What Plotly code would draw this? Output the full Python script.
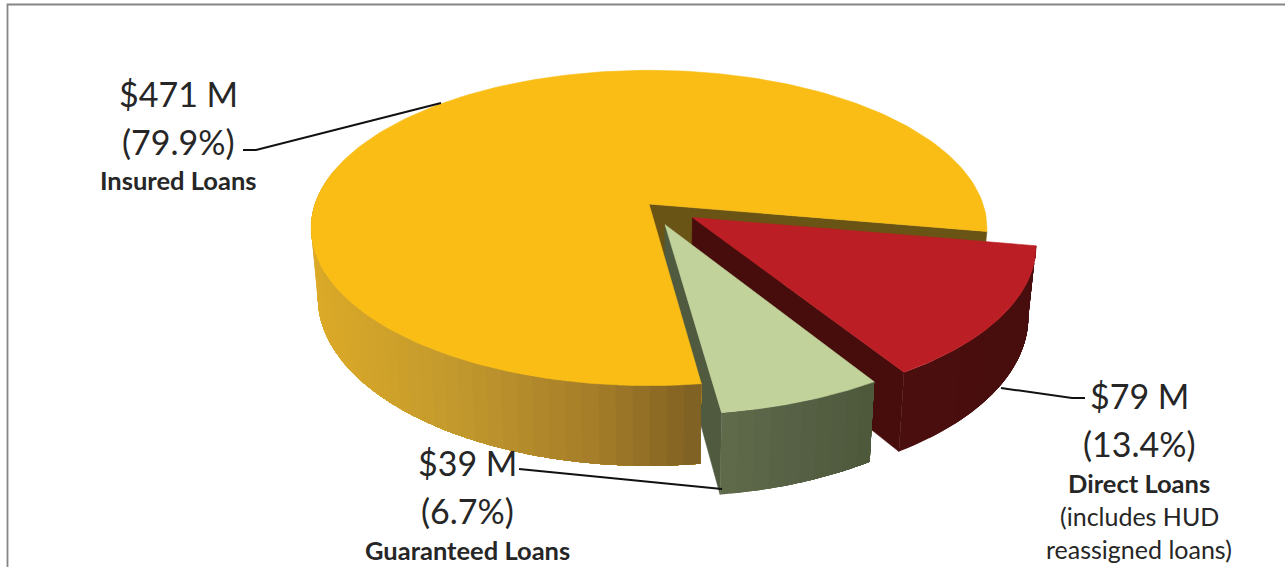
import numpy as np
import plotly.graph_objects as go

# ---- data ----
categories = ["Insured Loans", "Guaranteed Loans", "Direct Loans"]
amounts_musd = [471, 39, 79]
percents = [79.9, 6.7, 13.4]

# ---- drawing style / layout ----
CX, CY, A, B, K = 649.0, 204.0, 334.0, 154.0, 0.152   # perspective disc
DEPTH, SHRINK = 68.0, 0.98
START_DEG = -10.0
EXPLODE = {"Insured Loans": 0.0, "Guaranteed Loans": 0.14, "Direct Loans": 0.155}
TOP = {"Insured Loans": "#f9bd16", "Guaranteed Loans": "#c1d29a", "Direct Loans": "#bb1e24"}
WALL = {"Insured Loans": "#6a5415", "Guaranteed Loans": "#4f5a3f", "Direct Loans": "#470c0c"}
SIDE_STOPS = {
    "Insured Loans": ([315, 450, 600, 700], ["#dcaa28", "#c49a2e", "#a47c28", "#7e6024"]),
    "Guaranteed Loans": ([722, 800, 875], ["#616c4c", "#566145", "#4e593c"]),
    "Direct Loans": ([880, 1030], ["#4c0f0f", "#480d0d"]),
}
TEXT = "#262626"
FONT = "Lato"


def project(u, v, lower=False):
    u, v = np.asarray(u, float), np.asarray(v, float)
    w = 1 + K * v
    x = A * u / w
    y = -B * v / w
    if lower:
        return CX + SHRINK * x, CY + y + DEPTH / w
    return CX + x, CY + y


def hex_rgb(h):
    return np.array([int(h[i:i + 2], 16) for i in (1, 3, 5)], float)


def side_colour(name, x):
    xs, cols = SIDE_STOPS[name]
    rgb = np.array([hex_rgb(c) for c in cols])
    return "rgb(%d,%d,%d)" % tuple(np.interp(x, xs, rgb[:, i]) for i in range(3))


def poly(fig, xs, ys, colour, edge=True):
    fig.add_trace(go.Scatter(x=list(xs), y=list(ys), mode="lines" if edge else "none", fill="toself",
                             fillcolor=colour, line=dict(color=colour, width=0.6),
                             hoverinfo="skip", showlegend=False))


# slice geometry follows from the percentages
spans = {}
a0 = START_DEG
for name, p in zip(categories, percents):
    spans[name] = (a0, a0 + p * 3.6)
    a0 += p * 3.6


def offset(name):
    t1, t2 = spans[name]
    mid = np.radians((t1 + t2) / 2)
    d = EXPLODE[name]
    return d * np.cos(mid), d * np.sin(mid)


def top(fig, name):
    t1, t2 = spans[name]
    ox, oy = offset(name)
    t = np.radians(np.linspace(t1, t2, 200))
    u = np.r_[ox, ox + np.cos(t), ox]
    v = np.r_[oy, oy + np.sin(t), oy]
    x, y = project(u, v)
    poly(fig, x, y, TOP[name])


def wall(fig, name, angle):
    ox, oy = offset(name)
    t = np.radians(angle)
    u = np.array([ox, ox + np.cos(t)])
    v = np.array([oy, oy + np.sin(t)])
    x1, y1 = project(u, v)
    x2, y2 = project(u, v, lower=True)
    poly(fig, np.r_[x1, x2[::-1], x1[0]], np.r_[y1, y2[::-1], y1[0]], WALL[name])


def side(fig, name, t_from=None, strips=40):
    t1, t2 = spans[name]
    if t_from is not None:
        t1 = t_from
    ox, oy = offset(name)
    fine = 4
    t = np.radians(np.linspace(t1, t2, strips * fine + 1))
    u = ox + np.cos(t)
    v = oy + np.sin(t)
    x1, y1 = project(u, v)
    x2, y2 = project(u, v, lower=True)
    # each band runs to the far end and the next one paints over it, so no seams show
    for i in range(strips):
        a = i * fine
        xc = (x1[a] + x1[min(a + fine, len(x1) - 1)]) / 2
        poly(fig,
             np.r_[x1[a:], x2[a:][::-1], x1[a]],
             np.r_[y1[a:], y2[a:][::-1], y1[a]],
             side_colour(name, xc), edge=False)


fig = go.Figure()
INS, GUA, DIR = categories

# painter's order, back to front
wall(fig, INS, spans[INS][0])
wall(fig, DIR, spans[DIR][0])
side(fig, DIR, strips=8)
top(fig, DIR)
wall(fig, GUA, spans[GUA][0])
side(fig, INS, t_from=165, strips=45)
top(fig, INS)
side(fig, GUA, strips=10)
top(fig, GUA)

# leader lines and frame
leaders = [
    ([243, 256, 441], [150, 150, 103]),
    ([1001, 1072, 1085], [388, 398, 398]),
    ([519, 722], [469, 489]),
]
for lx, ly in leaders:
    fig.add_trace(go.Scatter(x=lx, y=ly, mode="lines", line=dict(color="#111111", width=2),
                             hoverinfo="skip", showlegend=False))
fig.add_trace(go.Scatter(x=[7.5, 7.5, 1285], y=[567, 4.5, 4.5], mode="lines",
                         line=dict(color="#858585", width=1.8),
                         hoverinfo="skip", showlegend=False))

# labels
BIG, BOLD, SMALL = 34, 25.5, 25
labels = [
    (178, 93, f"${amounts_musd[0]} M", BIG, False),
    (178, 141, f"({percents[0]}%)", BIG, False),
    (178, 180, INS, BOLD, True),
    (1139, 395, f"${amounts_musd[2]} M", BIG, False),
    (1139, 443, f"({percents[2]}%)", BIG, False),
    (1139, 483, DIR, BOLD, True),
    (1139, 516, "(includes HUD", SMALL, False),
    (1139, 549, "reassigned loans)", SMALL, False),
    (467, 462, f"${amounts_musd[1]} M", BIG, False),
    (467, 510, f"({percents[1]}%)", BIG, False),
    (467, 550, GUA, BOLD, True),
]
annotations = [
    dict(x=x, y=y, xref="x", yref="y", text=f"<b>{s}</b>" if bold else s, showarrow=False,
         xanchor="center", yanchor="middle", font=dict(family=FONT, size=size, color=TEXT))
    for x, y, s, size, bold in labels
]

fig.update_layout(
    width=1285, height=567, margin=dict(l=0, r=0, t=0, b=0),
    paper_bgcolor="white", plot_bgcolor="white", showlegend=False,
    annotations=annotations,
    xaxis=dict(range=[0, 1285], visible=False, fixedrange=True),
    yaxis=dict(range=[567, 0], visible=False, fixedrange=True),
)
fig.write_html("out.html", config={"displayModeBar": False},
               post_script="document.body.style.margin='0';document.body.style.overflow='hidden';")
